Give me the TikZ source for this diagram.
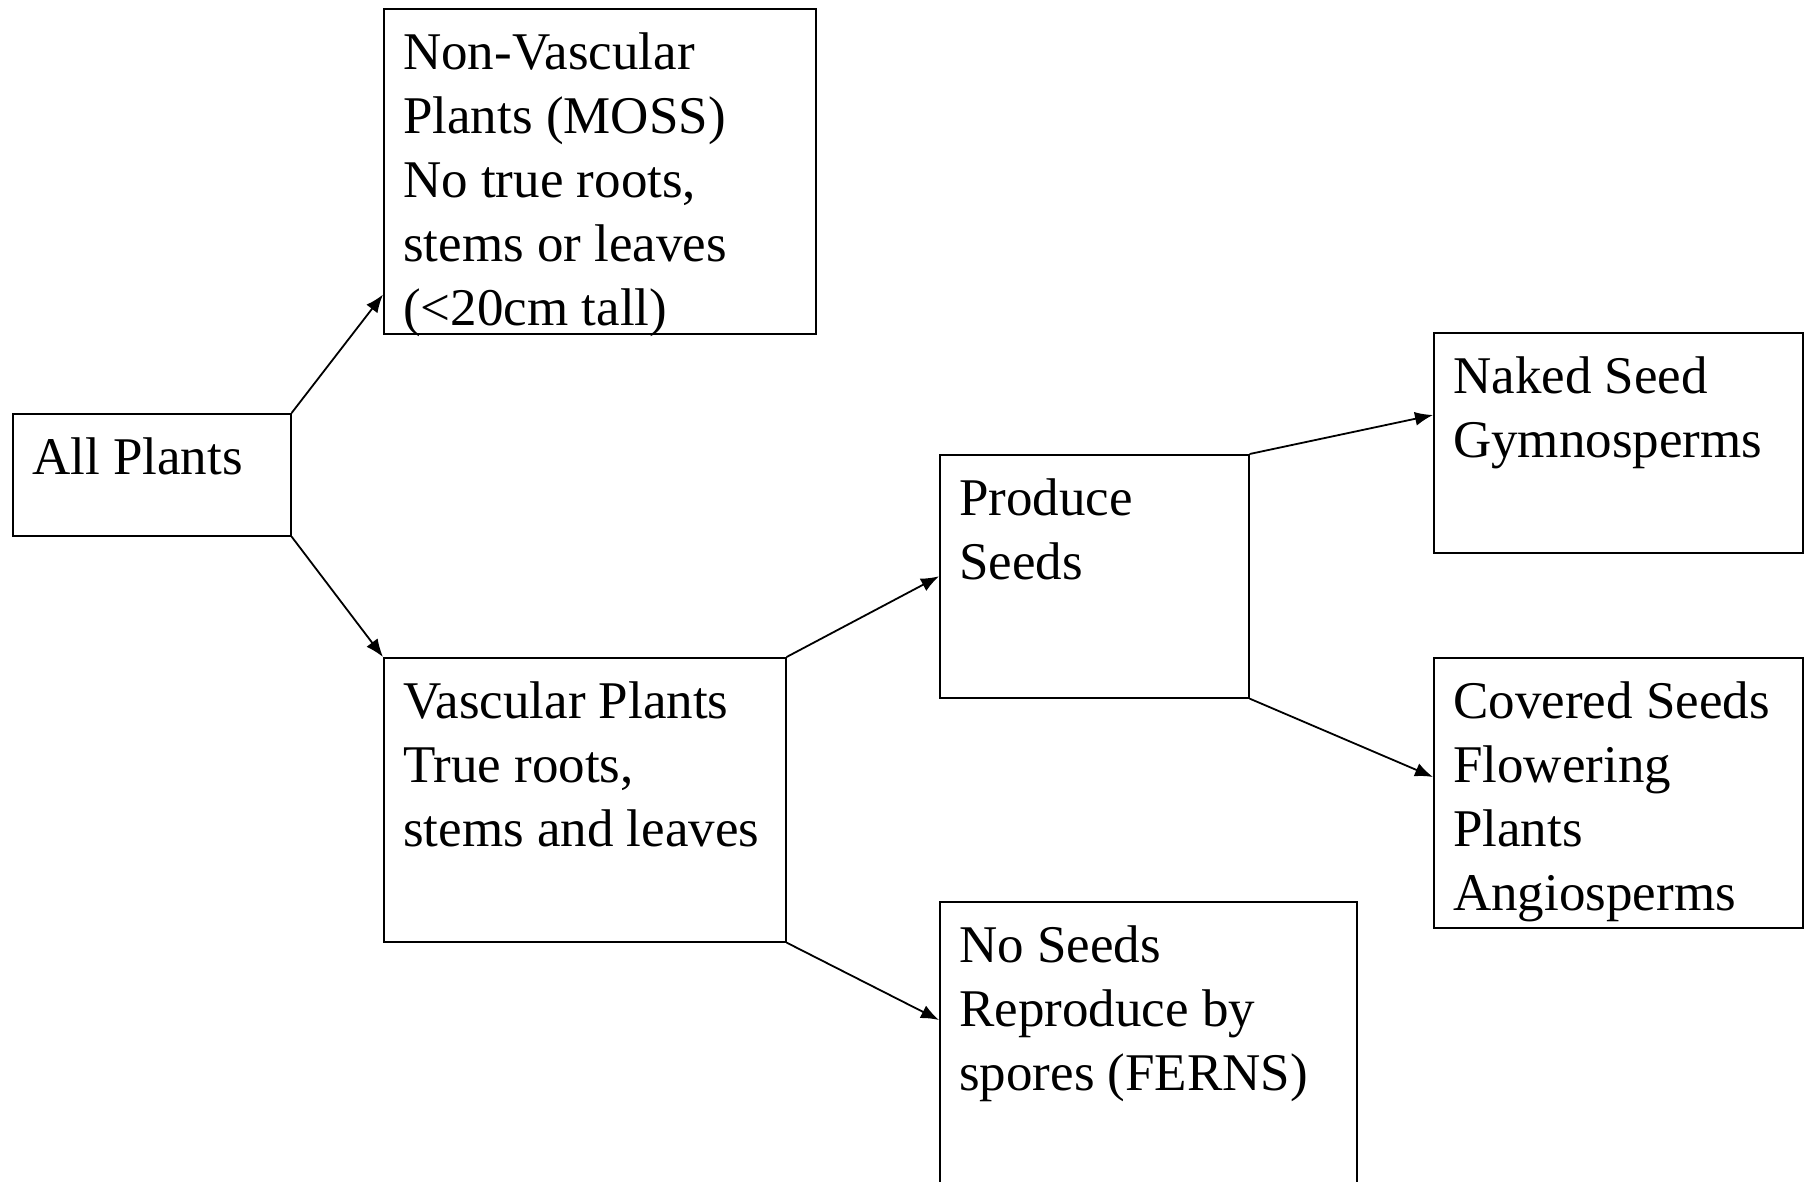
\documentclass[tikz,border=0pt]{standalone}
\usepackage{fontspec}
\setmainfont{Liberation Serif}
\usetikzlibrary{arrows.meta}
\tikzset{
  box/.style={draw=black, line width=1.6pt, rectangle, inner sep=0pt, anchor=north west},
  txt/.style={inner sep=0pt, anchor=north west, align=left, font=\fontsize{53}{64}\selectfont},
  conn/.style={draw=black, line width=1.8pt, -{Latex[length=18pt,width=14pt]}}
}
\newcommand{\fs}{\rule{0pt}{45pt}}
\begin{document}
\begin{tikzpicture}[x=1pt,y=-1pt]
\useasboundingbox (0,0) rectangle (1810,1181);
\clip (0,0) rectangle (1810,1181);
\fill[white] (0,0) rectangle (1810,1181);
% boxes
\node[box, minimum width=278pt, minimum height=122pt] (ap) at (12,413) {};
\node[box, minimum width=432pt, minimum height=325pt] (nv) at (383,8) {};
\node[box, minimum width=402pt, minimum height=284pt] (vp) at (383,657) {};
\node[box, minimum width=309pt, minimum height=243pt] (ps) at (939,454) {};
\node[box, minimum width=417pt, minimum height=400pt] (ns) at (939,901) {};
\node[box, minimum width=369pt, minimum height=220pt] (nk) at (1433,332) {};
\node[box, minimum width=369pt, minimum height=270pt] (cv) at (1433,657) {};
% texts
\node[txt] (apt) at ([xshift=20pt,yshift=-16pt]ap.north west) {\fs All Plants};
\node[txt] (nvt) at ([xshift=20pt,yshift=-16pt]nv.north west) {\fs Non-Vascular\\Plants (MOSS)\\No true roots,\\stems or leaves\\(<20cm tall)};
\node[txt] (vpt) at ([xshift=20pt,yshift=-16pt]vp.north west) {\fs Vascular Plants\\True roots,\\stems and leaves};
\node[txt] (pst) at ([xshift=20pt,yshift=-16pt]ps.north west) {\fs Produce\\Seeds};
\node[txt] (nst) at ([xshift=20pt,yshift=-16pt]ns.north west) {\fs No Seeds\\Reproduce by\\spores (FERNS)};
\node[txt] (nkt) at ([xshift=20pt,yshift=-16pt]nk.north west) {\fs Naked Seed\\Gymnosperms};
\node[txt] (cvt) at ([xshift=20pt,yshift=-16pt]cv.north west) {\fs Covered Seeds\\Flowering\\Plants\\Angiosperms};
% connectors
\coordinate (nvin) at ([yshift=40pt]nv.south west);
\coordinate (nsin) at ([yshift=-119pt]ns.north west);
\coordinate (nkin) at ([yshift=-83pt]nk.north west);
\coordinate (cvin) at ([yshift=-120pt]cv.north west);
\draw[conn] (ap.north east) -- (nvin);
\draw[conn] (ap.south east) -- (vp.north west);
\draw[conn] (vp.north east) -- (ps.west);
\draw[conn] (vp.south east) -- (nsin);
\draw[conn] (ps.north east) -- (nkin);
\draw[conn] (ps.south east) -- (cvin);
\end{tikzpicture}
\end{document}
